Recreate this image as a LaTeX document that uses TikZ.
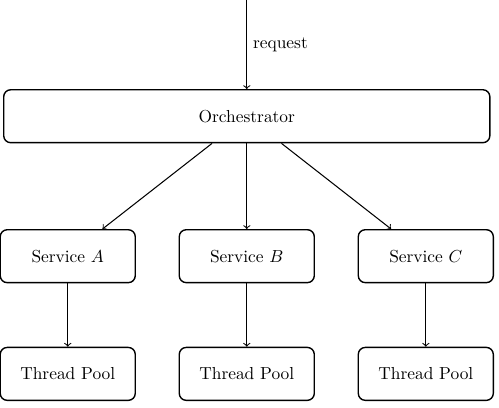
\documentclass[tikz,border=0pt]{standalone}
\begin{document}
\begin{tikzpicture}[>=to, box/.style={draw, thick, rounded corners, minimum height=1.07cm}]
\useasboundingbox (0,0) rectangle (10.09,-8.25);
\coordinate (top) at (4.99,0);
\node[box, minimum width=9.83cm] (orch) at (4.99,-2.35){Orchestrator};
\draw[->, semithick] (top)--node[right]{request} (orch);

\foreach \x/\n/\s in {1.37/a/A,4.99/b/B,8.61/c/C}
{
    \node[box, minimum width=2.73cm] (svc\n) at (\x,-5.18){Service $\s$};
    \node[box, minimum width=2.73cm] (pool\n) at (\x,-7.56){Thread Pool};
    \draw[->, semithick] (orch)--(svc\n);
    \draw[->, semithick] (svc\n)--(pool\n);
}

\end{tikzpicture}
\end{document}
